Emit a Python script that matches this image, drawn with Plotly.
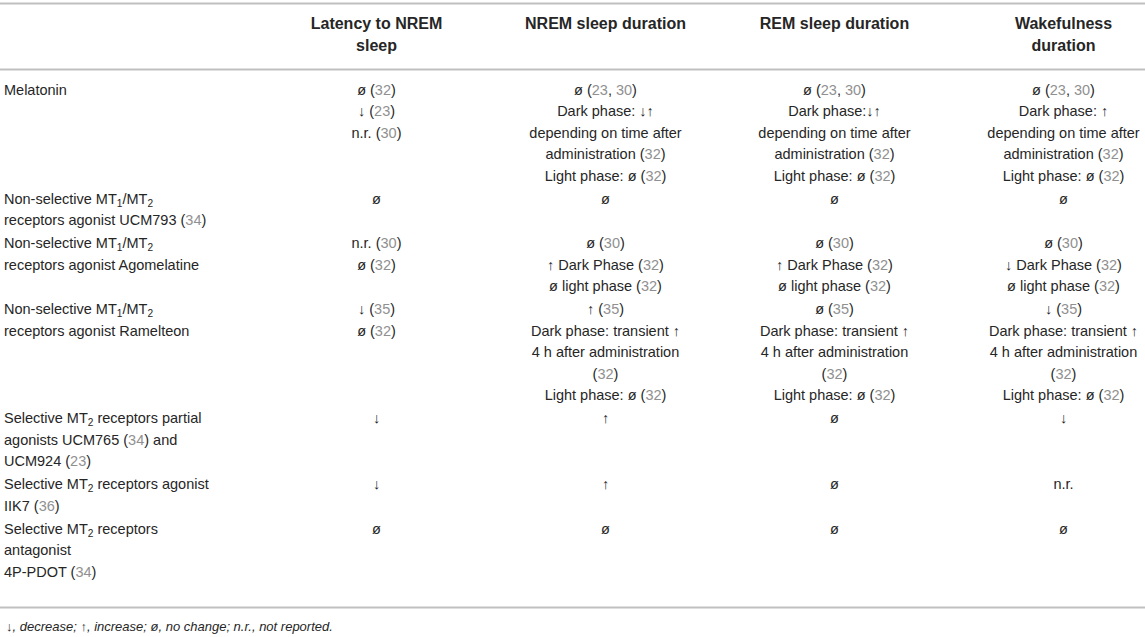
import re
import plotly.graph_objects as go

# column headings
headers = ["", "Latency to NREM<br>sleep", "NREM sleep duration",
           "REM sleep duration", "Wakefulness<br>duration"]

compounds = [
    "Melatonin",
    "Non-selective MT<sub>1</sub>/MT<sub>2</sub><br>receptors agonist UCM793 (34)",
    "Non-selective MT<sub>1</sub>/MT<sub>2</sub><br>receptors agonist Agomelatine",
    "Non-selective MT<sub>1</sub>/MT<sub>2</sub><br>receptors agonist Ramelteon",
    "Selective MT<sub>2</sub> receptors partial<br>agonists UCM765 (34) and<br>UCM924 (23)",
    "Selective MT<sub>2</sub> receptors agonist<br>IIK7 (36)",
    "Selective MT<sub>2</sub> receptors<br>antagonist<br>4P-PDOT (34)",
]

latency = [
    "ø (32)<br>↓ (23)<br>n.r. (30)",
    "ø",
    "n.r. (30)<br>ø (32)",
    "↓ (35)<br>ø (32)",
    "↓",
    "↓",
    "ø",
]

nrem = [
    "ø (23, 30)<br>Dark phase: ↓↑<br>depending on time after<br>administration (32)<br>Light phase: ø (32)",
    "ø",
    "ø (30)<br>↑ Dark Phase (32)<br>ø light phase (32)",
    "↑ (35)<br>Dark phase: transient ↑<br>4 h after administration<br>(32)<br>Light phase: ø (32)",
    "↑",
    "↑",
    "ø",
]

rem = [
    "ø (23, 30)<br>Dark phase:↓↑<br>depending on time after<br>administration (32)<br>Light phase: ø (32)",
    "ø",
    "ø (30)<br>↑ Dark Phase (32)<br>ø light phase (32)",
    "ø (35)<br>Dark phase: transient ↑<br>4 h after administration<br>(32)<br>Light phase: ø (32)",
    "ø",
    "ø",
    "ø",
]

wake = [
    "ø (23, 30)<br>Dark phase: ↑<br>depending on time after<br>administration (32)<br>Light phase: ø (32)",
    "ø",
    "ø (30)<br>↓ Dark Phase (32)<br>ø light phase (32)",
    "↓ (35)<br>Dark phase: transient ↑<br>4 h after administration<br>(32)<br>Light phase: ø (32)",
    "↓",
    "n.r.",
    "ø",
]

footnote = "↓, decrease; ↑, increase; ø, no change; n.r., not reported."

# layout (pixels)
W, H = 1145, 637
FONT = "Liberation Sans, Arial, Helvetica, sans-serif"
TEXT = "#262626"
REF_GREY = "#909090"
RULE = "#c0c0c0"
col_widths = [262, 229, 229, 229, 229]
first_x = 4
head_y, head_lh = 25, 22
body_y, body_lh, row_gap = 91, 21.5, 1.5
rules_y = [3.5, 69.5, 607.5]


def grey_refs(text):
    # reference numbers in brackets are printed in grey
    def repl(m):
        inner = re.sub(r"\d+", lambda n: f"<span style='color:{REF_GREY}'>{n.group(0)}</span>", m.group(1))
        return f"({inner})"
    return re.sub(r"\((\d+(?:, \d+)*)\)", repl, text)


edges = [0]
for w in col_widths:
    edges.append(edges[-1] + w)
centers = [(a + b) / 2 for a, b in zip(edges[:-1], edges[1:])]

columns = [compounds, latency, nrem, rem, wake]
n_lines = [max(len(c[i].split("<br>")) for c in columns) for i in range(len(compounds))]
row_top = [body_y]
for n in n_lines[:-1]:
    row_top.append(row_top[-1] + n * body_lh + row_gap)

fig = go.Figure()

# header
hx, hy, ht = [], [], []
for j, h in enumerate(headers[1:], start=1):
    for k, line in enumerate(h.split("<br>")):
        hx.append(centers[j])
        hy.append(head_y + k * head_lh)
        ht.append("<b>%s</b>" % line)
fig.add_trace(go.Scatter(x=hx, y=hy, text=ht, mode="text", textposition="middle center",
                         textfont=dict(family=FONT, size=16, color=TEXT),
                         hoverinfo="skip", cliponaxis=False, showlegend=False))

# body cells, one text mark per printed line
for j, col in enumerate(columns):
    bx, by, bt = [], [], []
    for i, cell in enumerate(col):
        for k, line in enumerate(cell.split("<br>")):
            bx.append(first_x if j == 0 else centers[j])
            by.append(row_top[i] + k * body_lh)
            bt.append(grey_refs(line))
    fig.add_trace(go.Scatter(x=bx, y=by, text=bt, mode="text",
                             textposition="middle right" if j == 0 else "middle center",
                             textfont=dict(family=FONT, size=14.5, color=TEXT),
                             hoverinfo="skip", cliponaxis=False, showlegend=False))

for ry in rules_y:
    fig.add_shape(type="line", xref="paper", yref="y", x0=0, x1=1, y0=ry, y1=ry,
                  line=dict(color=RULE, width=1.8))

fig.add_annotation(text="<i>%s</i>" % footnote, xref="x", yref="y",
                   x=first_x, y=626, xanchor="left", yanchor="middle",
                   showarrow=False, font=dict(family=FONT, size=13, color=TEXT))

fig.update_xaxes(range=[0, W], visible=False, fixedrange=True)
fig.update_yaxes(range=[H, 0], visible=False, fixedrange=True)
fig.update_layout(width=W, height=H, margin=dict(l=0, r=0, t=0, b=0),
                  paper_bgcolor="white", plot_bgcolor="white")

fig.write_html("out.html", config={"displayModeBar": False},
               post_script="document.body.style.margin='0px';")
